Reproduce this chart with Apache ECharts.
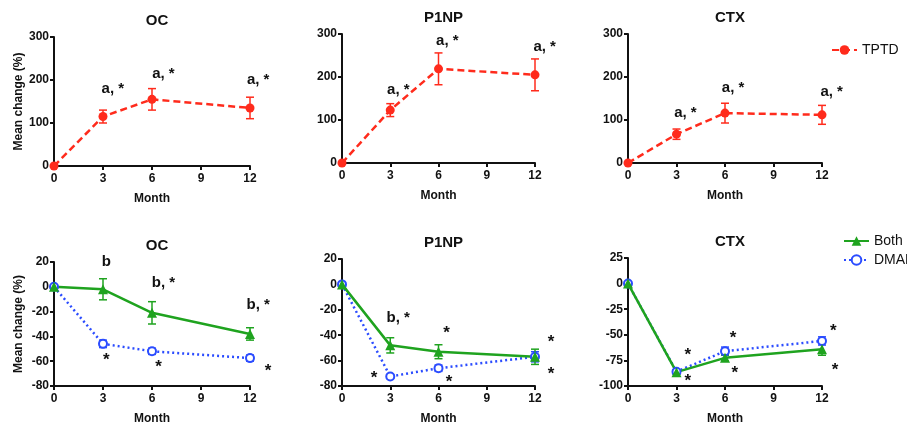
<!DOCTYPE html>
<html>
<head>
<meta charset="utf-8">
<script src="https://cdn.jsdelivr.net/npm/echarts@6/dist/echarts.min.js"></script>
<style>
  html, body { margin: 0; padding: 0; background: #fff; }
  #echart { width: 907px; height: 426px; }
</style>
</head>
<body>
<div id="echart"></div>
<script>
var months = [0, 3, 6, 12];

// top row: TPTD
var tptdOC = [0, 115, 155, 135];
var tptdOCErr = [0, 15, 25, 25];
var tptdP1NP = [0, 123, 219, 205];
var tptdP1NPErr = [0, 15, 37, 37];
var tptdCTX = [0, 67, 116, 112];
var tptdCTXErr = [0, 12, 23, 22];

// bottom row: Both / DMAB
var bothOC = [0, -2, -21, -38];
var bothOCErr = [0, 8.5, 9, 5];
var dmabOC = [0, -46, -52, -57.5];
var dmabOCErr = [0, 3, 2.5, 2.5];
var bothP1NP = [0, -48, -53, -57];
var bothP1NPErr = [0, 6, 5.5, 6];
var dmabP1NP = [0, -72.5, -66, -57];
var dmabP1NPErr = [0, 1.5, 2.5, 4];
var bothCTX = [0, -86.5, -72.5, -64];
var bothCTXErr = [0, 2, 3, 6];
var dmabCTX = [0, -86, -66, -56];
var dmabCTXErr = [0, 2, 4, 4];

// significance labels [month, value, text]
var annTopOC = [[3.6, 179, 'a, *'], [6.7, 214, 'a, *'], [12.5, 200, 'a, *']];
var annTopP1NP = [[3.5, 170, 'a, *'], [6.55, 283, 'a, *'], [12.6, 271, 'a, *']];
var annTopCTX = [[3.55, 116, 'a, *'], [6.5, 174, 'a, *'], [12.6, 165, 'a, *']];
var annBotOC = [[3.2, 20, 'b'], [6.7, 3, 'b, *'], [12.5, -14.5, 'b, *'],
                [3.2, -55.5, '*'], [6.4, -61, '*'], [13.1, -64.5, '*']];
var annBotP1NP = [[3.5, -26, 'b, *'], [6.5, -34.5, '*'], [13, -42, '*'],
                  [2, -70, '*'], [6.65, -73, '*'], [13, -67, '*']];
var annBotCTX = [[3.7, -65.5, '*'], [3.7, -91, '*'], [6.5, -49, '*'],
                 [6.6, -83, '*'], [12.7, -41.5, '*'], [12.8, -80, '*']];

var RED = '#ff2b1c', GREEN = '#1fa31f', BLUE = '#2b4cff';
var FONT = 'Liberation Sans';

var myChart = echarts.init(document.getElementById('echart'));

var panels = [
  { title: 'OC', grid: [54, 37, 196, 129], y: [0, 300, 100], yName: true, ann: annTopOC,
    lines: [{ name: 'TPTD', v: tptdOC, e: tptdOCErr, c: RED }] },
  { title: 'P1NP', grid: [342, 34, 193, 129], y: [0, 300, 100], ann: annTopP1NP,
    lines: [{ name: 'TPTD', v: tptdP1NP, e: tptdP1NPErr, c: RED }] },
  { title: 'CTX', grid: [628, 34, 194, 129], y: [0, 300, 100], ann: annTopCTX,
    lines: [{ name: 'TPTD', v: tptdCTX, e: tptdCTXErr, c: RED }] },
  { title: 'OC', grid: [54, 262, 196, 130], y: [-80, 20, 20], yName: true, ann: annBotOC,
    lines: [{ name: 'DMAB', v: dmabOC, e: dmabOCErr, c: BLUE },
            { name: 'Both', v: bothOC, e: bothOCErr, c: GREEN }] },
  { title: 'P1NP', grid: [342, 259, 193, 129], y: [-80, 20, 20], ann: annBotP1NP,
    lines: [{ name: 'DMAB', v: dmabP1NP, e: dmabP1NPErr, c: BLUE },
            { name: 'Both', v: bothP1NP, e: bothP1NPErr, c: GREEN }] },
  { title: 'CTX', grid: [628, 258, 194, 130], y: [-100, 25, 25], ann: annBotCTX,
    lines: [{ name: 'DMAB', v: dmabCTX, e: dmabCTXErr, c: BLUE },
            { name: 'Both', v: bothCTX, e: bothCTXErr, c: GREEN }] }
];

var lineStyles = {
  TPTD: { type: [7, 4], symbol: 'circle', size: 9 },
  Both: { type: 'solid', symbol: 'triangle', size: 10 },
  DMAB: { type: [2, 3], symbol: 'emptyCircle', size: 8 }
};

var axisCommon = {
  axisLine: { onZero: false, lineStyle: { color: '#111', width: 2 } },
  axisTick: { length: 4, lineStyle: { color: '#111', width: 2 } },
  axisLabel: { color: '#111', fontFamily: FONT, fontWeight: 'bold', fontSize: 12 },
  splitLine: { show: false }
};

function errorBars(color) {
  return function(params, api) {
    var x = api.value(0), y = api.value(1), e = api.value(2);
    if (!e) return null;
    var top = api.coord([x, y + e]);
    var bot = api.coord([x, y - e]);
    var st = { stroke: color, lineWidth: 1.5 };
    return {
      type: 'group',
      children: [
        { type: 'line', shape: { x1: top[0], y1: top[1], x2: bot[0], y2: bot[1] }, style: st },
        { type: 'line', shape: { x1: top[0] - 4, y1: top[1], x2: top[0] + 4, y2: top[1] }, style: st },
        { type: 'line', shape: { x1: bot[0] - 4, y1: bot[1], x2: bot[0] + 4, y2: bot[1] }, style: st }
      ]
    };
  };
}

function annText(text, params, api) {
  var p = api.coord([api.value(0), api.value(1)]);
  var star = text === '*';
  return {
    type: 'text', x: p[0], y: p[1] + (star ? 5 : 0),
    style: { text: text, fill: '#111', font: 'bold ' + (star ? 17 : 15) + 'px ' + FONT,
             align: 'center', verticalAlign: 'middle' }
  };
}

var grids = [], xAxes = [], yAxes = [], titles = [], series = [];

panels.forEach(function(p, i) {
  grids.push({ left: p.grid[0], top: p.grid[1], width: p.grid[2], height: p.grid[3] });
  titles.push({
    text: p.title, left: p.grid[0] + p.grid[2] / 2, top: p.grid[1] - 29, textAlign: 'center',
    textStyle: { fontFamily: FONT, fontWeight: 'bold', fontSize: 15, color: '#111' }
  });
  xAxes.push(Object.assign({}, axisCommon, {
    type: 'value', gridIndex: i, min: 0, max: 12, interval: 3,
    name: 'Month', nameLocation: 'middle', nameGap: 27,
    nameTextStyle: { fontFamily: FONT, fontWeight: 'bold', fontSize: 12, color: '#111' },
    axisLabel: Object.assign({}, axisCommon.axisLabel, { margin: 7 })
  }));
  yAxes.push(Object.assign({}, axisCommon, {
    type: 'value', gridIndex: i, min: p.y[0], max: p.y[1], interval: p.y[2],
    name: p.yName ? 'Mean change (%)' : '', nameLocation: 'middle', nameGap: 29,
    nameTextStyle: { fontFamily: FONT, fontWeight: 'bold', fontSize: 12, color: '#111' },
    axisLabel: Object.assign({}, axisCommon.axisLabel, { margin: 5 })
  }));

  p.lines.forEach(function(l) {
    var st = lineStyles[l.name];
    var pts = months.map(function(m, k) { return [m, l.v[k]]; });
    var errPts = months.map(function(m, k) { return [m, l.v[k], l.e[k]]; });
    series.push({
      type: 'custom', xAxisIndex: i, yAxisIndex: i, silent: true, z: 2,
      renderItem: errorBars(l.c), data: errPts
    });
    series.push({
      name: l.name, type: 'line', xAxisIndex: i, yAxisIndex: i, z: 3,
      data: pts, symbol: st.symbol, symbolSize: st.size,
      lineStyle: { color: l.c, width: 2.5, type: st.type },
      itemStyle: { color: l.c, borderColor: l.c, borderWidth: st.symbol === 'emptyCircle' ? 2 : 0 }
    });
  });

  var texts = p.ann.map(function(a) { return a[2]; });
  series.push({
    type: 'custom', xAxisIndex: i, yAxisIndex: i, silent: true, z: 4, clip: false,
    renderItem: function(params, api) {
      return annText(texts[params.dataIndex], params, api);
    },
    data: p.ann.map(function(a) { return [a[0], a[1]]; })
  });
});

var option = {
  backgroundColor: '#fff',
  animation: false,
  title: titles,
  grid: grids,
  xAxis: xAxes,
  yAxis: yAxes,
  legend: [
    { data: ['TPTD'], left: 826, top: 38, itemWidth: 25, itemHeight: 12, itemGap: 6,
      textStyle: { fontFamily: FONT, fontSize: 14, color: '#111' } },
    { data: ['Both', 'DMAB'], orient: 'vertical', left: 838, top: 229, itemWidth: 25, itemHeight: 12, itemGap: 5,
      textStyle: { fontFamily: FONT, fontSize: 14, color: '#111' } }
  ],
  series: series
};

myChart.setOption(option);
</script>
</body>
</html>
